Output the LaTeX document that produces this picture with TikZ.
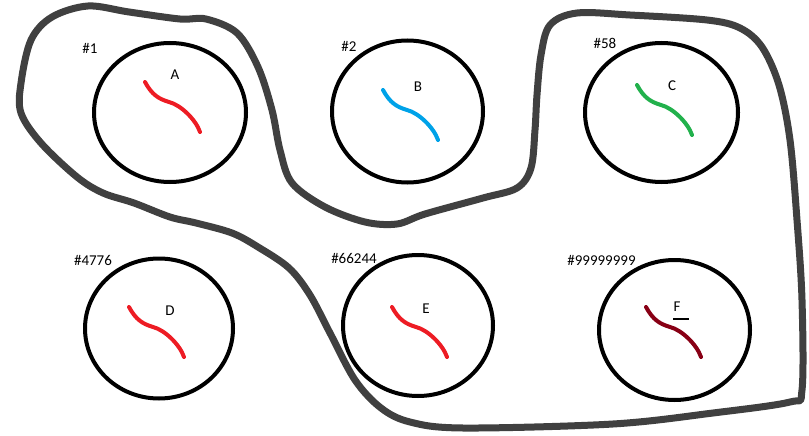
\documentclass[tikz,border=0pt]{standalone}
\usepackage{fontspec}
\setmainfont{Carlito}
\usepackage{tikz}
\usetikzlibrary{shapes.geometric,calc}

\definecolor{paintred}{HTML}{ED1C24}
\definecolor{paintblue}{HTML}{00A2E8}
\definecolor{paintgreen}{HTML}{22B14C}
\definecolor{paintmaroon}{HTML}{880015}
\definecolor{blobgray}{HTML}{404040}

\tikzset{
  ring/.style={ellipse, draw, line width=4pt, inner sep=0pt},
  wire/.style={line width=4pt, line cap=round},
  idlabel/.style={font=\fontsize{15}{17}\selectfont, inner sep=0pt},
  letter/.style={font=\fontsize{15}{17}\selectfont, inner sep=0pt},
  blob/.style={draw=blobgray, line width=7pt, line join=round}
}

\begin{document}
\begin{tikzpicture}[x=1pt, y=-1pt]
			\useasboundingbox (0,0) rectangle (809,436);

			% the six rings
			\node[ring, minimum width=152, minimum height=139] (a) at (170,112.5) {};
			\node[ring, minimum width=151, minimum height=142] (b) at (407.5,111.5) {};
			\node[ring, minimum width=153, minimum height=139] (c) at (661.5,112.5) {};
			\node[ring, minimum width=148, minimum height=140] (d) at (159,328.5) {};
			\node[ring, minimum width=150, minimum height=141] (e) at (418,325.5) {};
			\node[ring, minimum width=151, minimum height=140] (f) at (674.5,330) {};

			% numbers
			\node[idlabel] (na) at (90,48) {\#1};
			\node[idlabel] (nb) at (349,46) {\#2};
			\node[idlabel] (nc) at (605,43) {\#58};
			\node[idlabel] (nd) at (93,260) {\#4776};
			\node[idlabel] (ne) at (354,258) {\#66244};
			\node[idlabel] (nf) at (601.5,260) {\#99999999};

			% letters
			\node[letter] (la) at (175,75) {A};
			\node[letter] (lb) at (418,87) {B};
			\node[letter] (lc) at (672,86) {C};
			\node[letter] (ld) at (170,311) {D};
			\node[letter] (le) at (426,309) {E};
			\node[letter] (lf) at (677,307) {F};
			\draw[line width=1.3pt] ($(lf)+(-4,12)$) -- ($(lf)+(12,12)$);

			% squiggles
			\foreach \sx/\sy/\col in {145/82/paintred, 383/90/paintblue, 637/85/paintgreen,
				129/307/paintred, 392/307/paintred, 646/307/paintmaroon}
				\draw[wire, \col] (\sx,\sy) .. controls +(7,13) and +(-10,-3) .. ++(24,20)
					.. controls +(12,3) and +(-4,-12) .. ++(31,30);

			% the big outline
			\draw[blob] plot[smooth cycle, tension=0.55] coordinates {
				(88,6) (129,12) (180,19) (206,19) (237,33) (258,67) (272,110) (280,150)
				(292,183) (325,207) (365,222) (397,224) (425,214) (483,198) (517,188)
				(531,168) (535,130) (537,95) (541,55) (550,25) (577,13) (630,15) (707,20)
				(740,28) (762,47) (779,85) (790,140) (797,220) (802,300) (802,390)
				(790,402) (713,413) (613,424) (463,428) (410,422) (381,408) (355,380)
				(330,333) (310,295) (289,268) (258,247) (232,233) (196,223) (170,217)
				(134,203) (103,193) (77,177) (41,143) (21,113) (21,83) (31,40) (52,17)
			};
		\end{tikzpicture}
\end{document}
